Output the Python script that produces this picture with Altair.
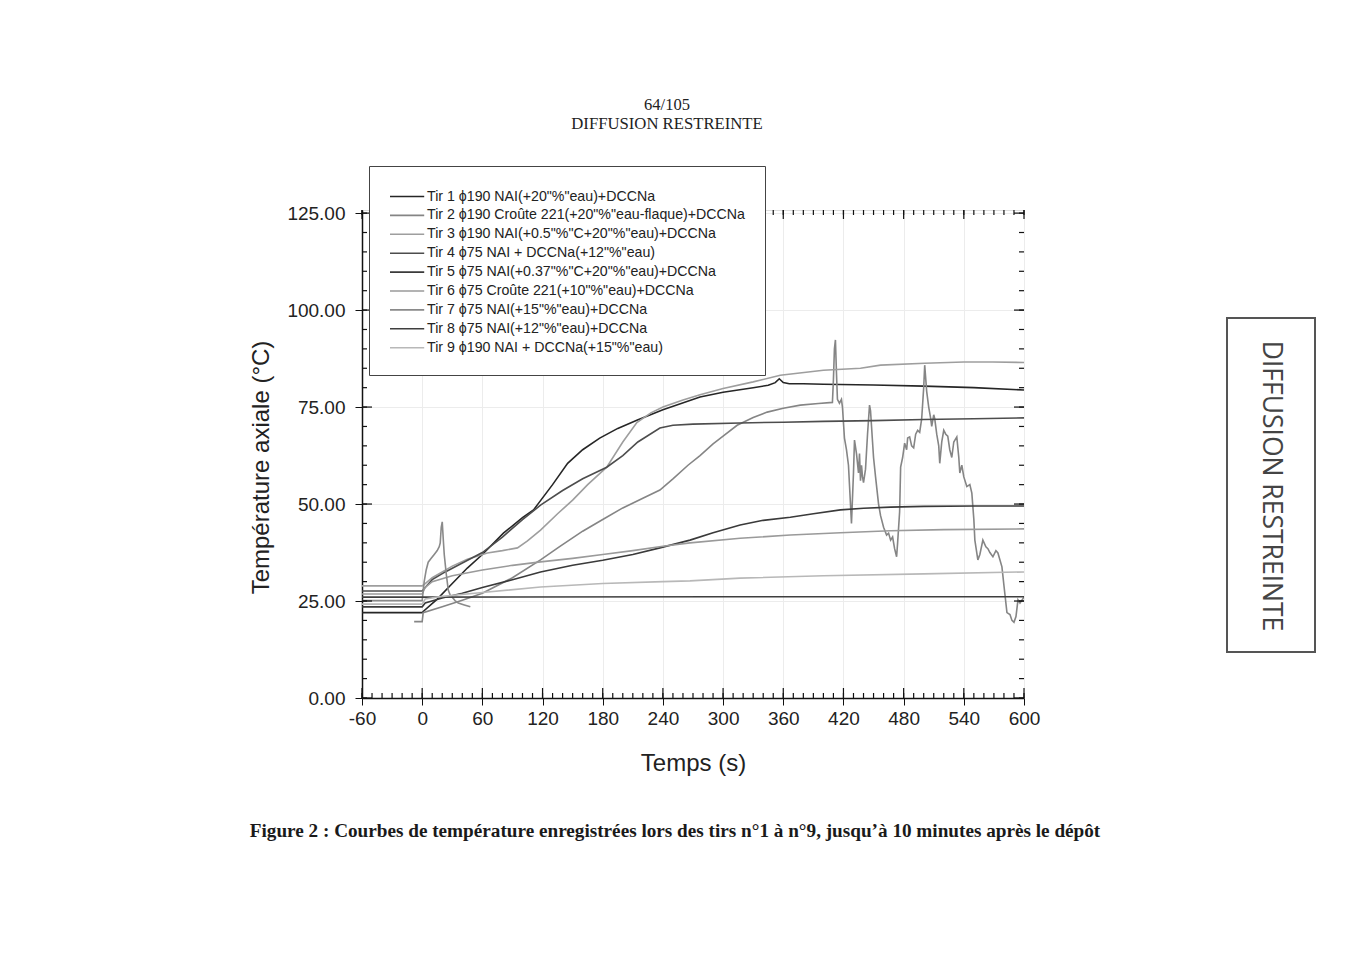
import altair as alt
import pandas as pd

# ---------------- data ----------------
names = [
    'Tir 1 \u03d5190 NAI(+20"%"eau)+DCCNa',
    'Tir 2 \u03d5190 Croûte 221(+20"%"eau-flaque)+DCCNa',
    'Tir 3 \u03d5190 NAI(+0.5"%"C+20"%"eau)+DCCNa',
    'Tir 4 \u03d575 NAI + DCCNa(+12"%"eau)',
    'Tir 5 \u03d575 NAI(+0.37"%"C+20"%"eau)+DCCNa',
    'Tir 6 \u03d575 Croûte 221(+10"%"eau)+DCCNa',
    'Tir 7 \u03d575 NAI(+15"%"eau)+DCCNa',
    'Tir 8 \u03d575 NAI(+12"%"eau)+DCCNa',
    'Tir 9 \u03d5190 NAI + DCCNa(+15"%"eau)',
]
colors = ["#262626", "#858585", "#9e9e9e", "#4d4d4d", "#3a3a3a",
          "#9a9a9a", "#8a8a8a", "#3f3f3f", "#b8b8b8"]

t1 = [-60, 0, 1, 15, 30, 45, 60, 81, 100, 111, 130, 145, 160, 177, 195, 214, 240, 277, 300, 330, 345, 352, 356, 360, 366, 380, 400, 450, 500, 550, 600]
v1 = [22.0, 22.0, 22.3, 25.5, 29.5, 33.5, 37.0, 42.5, 46.5, 48.5, 55.0, 60.5, 64.0, 67.0, 69.5, 71.6, 74.3, 77.6, 78.8, 80.0, 80.6, 81.3, 82.3, 81.3, 81.0, 81.0, 80.9, 80.7, 80.4, 80.0, 79.4]

t2 = [-8, 0, 1, 20, 40, 60, 90, 118, 137, 160, 180, 200, 220, 237, 250, 265, 277, 290, 300, 314, 330, 344, 360, 377, 395, 409,
      410, 411, 412, 413, 414, 416, 418, 419, 421, 423, 425, 427, 428, 430, 431, 433, 435, 436, 437, 438, 439, 440, 442, 444,
      446, 447, 449, 450, 452, 455, 457, 460, 463, 465, 467, 469, 471, 473, 474, 476, 477, 479, 481, 483, 484, 486, 488, 490,
      492, 494, 496, 498, 500, 501, 503, 505, 507, 508, 510, 511, 513, 515, 516, 518, 520, 522, 524, 526, 528, 530, 533, 535,
      536, 538, 540, 543, 546, 548, 550, 551, 554, 556, 559, 562, 564, 566, 569, 572, 574, 578, 580, 583, 586, 588, 590, 592,
      594, 596, 600]
v2 = [19.7, 19.7, 22.0, 23.5, 25.2, 27.0, 31.0, 35.6, 39.0, 43.0, 46.0, 49.0, 51.5, 53.6, 56.5, 60.0, 62.5, 65.5, 67.5, 70.3, 72.3, 73.7, 74.7, 75.5, 75.9, 76.2,
      82.0, 90.0, 92.3, 84.0, 77.0, 76.0, 77.0, 75.0, 67.0, 64.0, 60.0, 50.0, 45.0, 58.0, 66.5, 63.0, 58.0, 63.0, 56.0, 60.0, 57.0, 55.5, 59.0, 68.0,
      75.5, 74.0, 66.0, 62.0, 57.0, 50.0, 47.0, 44.0, 42.0, 42.5, 40.7, 41.5, 38.5, 36.4, 40.0, 48.0, 59.5, 62.0, 65.7, 64.0, 67.0, 67.3, 65.0, 64.5,
      68.0, 69.0, 68.5, 72.0, 80.0, 85.8, 79.0, 75.0, 72.0, 70.0, 73.0, 72.0, 68.0, 65.0, 60.5, 66.0, 69.0, 68.0, 67.5, 64.0, 62.0, 66.0, 67.3, 62.0,
      58.0, 60.0, 57.0, 54.5, 55.0, 52.8, 46.0, 40.7, 35.6, 37.0, 40.7, 39.0, 38.5, 37.5, 36.4, 38.0, 37.4, 33.8, 29.0, 22.0, 21.5, 20.0, 19.5, 21.0,
      25.3, 24.5, 26.0]

t3 = [-60, 0, 3, 10, 20, 30, 45, 65, 80, 95, 105, 118, 135, 150, 165, 184, 200, 214, 228, 240, 260, 277, 300, 330, 357, 400, 437, 457, 501, 540, 569, 600]
v3 = [28.9, 28.9, 29.5, 31.0, 32.5, 34.0, 35.8, 37.4, 38.0, 38.7, 40.5, 43.3, 47.5, 51.0, 55.0, 59.5, 66.0, 71.0, 73.5, 75.0, 76.8, 78.2, 79.8, 81.5, 83.2, 84.5, 85.0, 85.8, 86.3, 86.6, 86.6, 86.5]

t4 = [-60, 0, 3, 10, 23, 40, 60, 80, 100, 118, 140, 160, 184, 200, 215, 237, 250, 270, 317, 360, 400, 450, 500, 550, 600]
v4 = [27.6, 27.6, 28.5, 30.5, 32.5, 34.8, 37.5, 41.5, 46.0, 49.7, 53.5, 56.5, 59.5, 62.5, 66.0, 69.6, 70.3, 70.6, 70.9, 71.1, 71.3, 71.5, 71.8, 72.0, 72.2]

t5 = [-60, 0, 3, 20, 40, 60, 90, 118, 150, 180, 210, 237, 267, 290, 317, 340, 367, 390, 417, 440, 467, 500, 550, 600]
v5 = [23.5, 23.5, 24.5, 25.8, 27.0, 28.5, 30.5, 32.5, 34.2, 35.5, 37.0, 38.7, 40.7, 42.6, 44.6, 45.8, 46.6, 47.5, 48.5, 48.9, 49.2, 49.4, 49.5, 49.5]

t6 = [-60, 0, 3, 10, 30, 60, 90, 118, 150, 180, 210, 240, 267, 317, 367, 417, 467, 520, 600]
v6 = [26.8, 26.8, 28.5, 30.0, 31.5, 33.0, 34.2, 35.1, 36.0, 37.0, 38.0, 39.1, 40.0, 41.2, 42.0, 42.6, 43.1, 43.4, 43.6]

t7 = [-60, 0, 2, 4, 6, 9, 12, 15, 17, 18, 19, 20, 21, 22, 24, 26, 28, 30, 33, 36, 42, 48]
v7 = [25.1, 25.1, 30.0, 33.0, 35.0, 36.0, 37.0, 38.0, 39.0, 40.0, 44.0, 45.4, 41.0, 37.0, 32.0, 27.8, 26.5, 26.0, 25.0, 24.5, 24.0, 23.5]

t8 = [-60, 0, 300, 600]
v8 = [26.0, 26.0, 26.1, 26.1]

t9 = [-60, 0, 3, 20, 60, 118, 180, 240, 267, 317, 400, 500, 600]
v9 = [24.2, 24.2, 25.5, 26.2, 27.2, 28.6, 29.5, 30.0, 30.2, 30.9, 31.5, 32.0, 32.5]

x_major = [-60, 0, 60, 120, 180, 240, 300, 360, 420, 480, 540, 600]
x_minor = list(range(-60, 601, 10))
y_major = [0, 25, 50, 75, 100, 125]
y_minor = list(range(0, 126, 5))

# ---------------- build table ----------------
series_t = [t1, t2, t3, t4, t5, t6, t7, t8, t9]
series_v = [v1, v2, v3, v4, v5, v6, v7, v8, v9]
rows = []
for name, ts, vs in zip(names, series_t, series_v):
    for t, v in zip(ts, vs):
        rows.append({"serie": name, "t": t, "v": v})
df = pd.DataFrame(rows)

W, H = 662, 488
OX, OY = 362, 210  # page position of plot origin

xs = alt.Scale(domain=[-60, 600], nice=False, zero=False)
ys = alt.Scale(domain=[0, 125.8], nice=False, zero=False)

x_axis = alt.Axis(
    values=x_major, labelExpr="'' + datum.value", title="Temps (s)", titleFontSize=24,
    titleFontWeight="normal", titleColor="#222", titleY=72, titleBaseline="alphabetic",
    labelFontSize=19, labelColor="#222", labelPadding=4, tickSize=7, tickColor="#111",
    domainColor="#111", domainWidth=1.5, grid=True, gridColor="#ececec", labelFlush=False)
y_axis = alt.Axis(
    values=y_major, format=".2f", title="Température axiale (°C)", titleFontSize=24,
    titleFontWeight="normal", titleColor="#222", titleAngle=270, titleX=-94, titleY=257,
    titleBaseline="alphabetic", titleAlign="center",
    labelFontSize=19, labelColor="#222", labelPadding=10, tickSize=7, tickColor="#111",
    domainColor="#111", domainWidth=1.5, grid=True, gridColor="#ececec")

lines = alt.Chart(df).mark_line(strokeWidth=1.6, clip=True).encode(
    x=alt.X("t:Q", scale=xs, axis=x_axis),
    y=alt.Y("v:Q", scale=ys, axis=y_axis),
    color=alt.Color("serie:N", sort=names, scale=alt.Scale(domain=names, range=colors),
                    legend=alt.Legend(
                        orient="none", legendX=7, legendY=-44, title=None,
                        fillColor="white", strokeColor="#444", padding=20,
                        symbolType="M-1,0H2.6", symbolSize=361, symbolStrokeWidth=1.6,
                        symbolFillColor="transparent",
                        labelFontSize=14.2, labelColor="#222", labelOffset=17, rowPadding=0.9,
                        labelLimit=700)),
)

def tick_rules(values, field, kind, length):
    d = pd.DataFrame({field: values})
    base = alt.Chart(d).mark_rule(color="#111", strokeWidth=1.2)
    if kind == "bottom":
        return base.encode(x=alt.X(f"{field}:Q", scale=xs, axis=x_axis), y=alt.value(H), y2=alt.value(H - length))
    if kind == "top":
        return base.encode(x=alt.X(f"{field}:Q", scale=xs, axis=x_axis), y=alt.value(0), y2=alt.value(length))
    if kind == "left":
        return base.encode(y=alt.Y(f"{field}:Q", scale=ys, axis=y_axis), x=alt.value(0), x2=alt.value(length))
    return base.encode(y=alt.Y(f"{field}:Q", scale=ys, axis=y_axis), x=alt.value(W), x2=alt.value(W - length))

ticks = [
    tick_rules(x_minor, "t", "bottom", 5), tick_rules(x_major, "t", "bottom", 10),
    tick_rules(x_minor, "t", "top", 5), tick_rules(x_major, "t", "top", 9),
    tick_rules(y_minor, "v", "left", 5), tick_rules(y_major, "v", "left", 10),
    tick_rules(y_minor, "v", "right", 5), tick_rules(y_major, "v", "right", 10),
]

one = alt.Data(values=[{"k": 1}])

def page_text(txt, px, py, size, font, weight="normal", color="#222", angle=0, align="center"):
    return alt.Chart(one).mark_text(
        text=txt, font=font, fontSize=size, fontWeight=weight, color=color, angle=angle,
        align=align, baseline="middle").encode(x=alt.value(px - OX), y=alt.value(py - OY))

texts = [
    page_text("64/105", 667, 105, 16.5, "Liberation Serif"),
    page_text("DIFFUSION RESTREINTE", 667, 124, 16.7, "Liberation Serif"),
    page_text("Figure 2 : Courbes de température enregistrées lors des tirs n°1 à n°9, jusqu\u2019à 10 minutes après le dépôt",
              675, 831, 19.2, "Liberation Serif", weight="bold", color="#1a1a1a"),
    page_text("DIFFUSION  RESTREINTE", 1271, 486, 26.5, "Open Sans", color="#444", angle=90),
]

side_box = alt.Chart(one).mark_rect(fill="white", fillOpacity=0, stroke="#555", strokeWidth=2).encode(
    x=alt.value(1227 - OX), x2=alt.value(1315 - OX), y=alt.value(318 - OY), y2=alt.value(652 - OY))

chart = alt.layer(lines, *ticks, side_box, *texts).properties(
    width=W, height=H,
    autosize=alt.AutoSizeParams(type="none"),
    padding={"left": OX - 8, "top": OY - 8, "right": 1339 - (OX - 8) - W, "bottom": 944 - (OY - 8) - H},
    background="white",
).configure_view(stroke="#111", strokeWidth=1.5).configure(font="Liberation Sans")

chart.save("out.html", embed_options={"renderer": "svg", "actions": False})
